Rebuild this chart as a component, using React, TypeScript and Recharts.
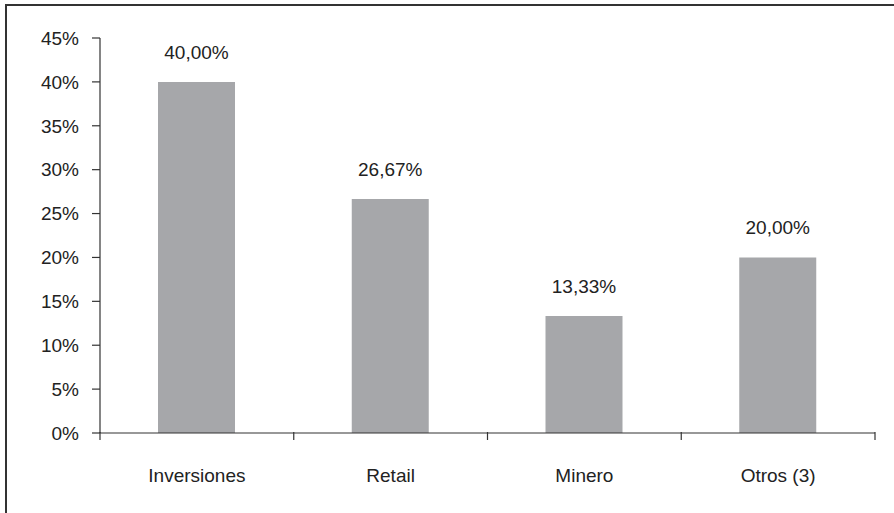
import React from 'react';
import { BarChart, Bar, XAxis, YAxis, LabelList } from 'recharts';

const categories = ['Inversiones', 'Retail', 'Minero', 'Otros (3)'];
const shares = [40, 26.67, 13.33, 20];
const yTicks = [0, 5, 10, 15, 20, 25, 30, 35, 40, 45];

const data = categories.map((name, i) => ({ name, value: shares[i] }));

const TEXT = '#222';
const AXIS = '#333';
const FONT = 'Arial, "Liberation Sans", sans-serif';
const FS = 19;

const CategoryTick = (props: any) => {
  const { x, y, payload, index, visibleTicksCount } = props;
  const off = payload?.offset ?? 0;
  const lineTop = y - 37;
  const lineBottom = y - 29;
  const isLast = index === (visibleTicksCount ?? categories.length) - 1;
  return (
    <g>
      <line x1={x - off} x2={x - off} y1={lineTop} y2={lineBottom} stroke={AXIS} strokeWidth={1.2} />
      {isLast && (
        <line x1={x + off} x2={x + off} y1={lineTop} y2={lineBottom} stroke={AXIS} strokeWidth={1.2} />
      )}
      <text x={x} y={y} dy="0.71em" textAnchor="middle" fill={TEXT} fontSize={FS} fontFamily={FONT}>
        {payload.value}
      </text>
    </g>
  );
};

export default function App() {
  return (
    <div style={{ position: 'absolute', left: 0, top: 0, width: 894, height: 513, overflow: 'hidden', background: '#fff' }}>
      <div
        style={{
          position: 'absolute',
          left: 5,
          top: 4,
          width: 920,
          height: 540,
          borderTop: `2px solid ${AXIS}`,
          borderLeft: `2px solid ${AXIS}`,
        }}
      />
      <BarChart
        width={894}
        height={513}
        data={data}
        margin={{ top: 38, right: 19, bottom: 0, left: 0 }}
        style={{ position: 'absolute', left: 0, top: 0, fontFamily: FONT }}
      >
        <XAxis
          dataKey="name"
          height={80}
          tickLine={false}
          tickSize={0}
          tickMargin={36}
          axisLine={{ stroke: AXIS, strokeWidth: 1.2 }}
          tick={<CategoryTick />}
          interval={0}
        />
        <YAxis
          width={100}
          domain={[0, 45]}
          ticks={yTicks}
          interval={0}
          tickFormatter={(v: number) => `${v}%`}
          tickSize={8}
          tickMargin={13}
          tickLine={{ stroke: AXIS, strokeWidth: 1.2 }}
          axisLine={{ stroke: AXIS, strokeWidth: 1.2 }}
          tick={{ fill: TEXT, fontSize: FS, fontFamily: FONT }}
        />
        <Bar dataKey="value" fill="#a6a7aa" barSize={77} isAnimationActive={false}>
          <LabelList
            dataKey="value"
            position="top"
            offset={23}
            fill={TEXT}
            fontSize={FS}
            fontFamily={FONT}
            formatter={(v: any) => `${Number(v).toFixed(2).replace('.', ',')}%`}
          />
        </Bar>
      </BarChart>
    </div>
  );
}
